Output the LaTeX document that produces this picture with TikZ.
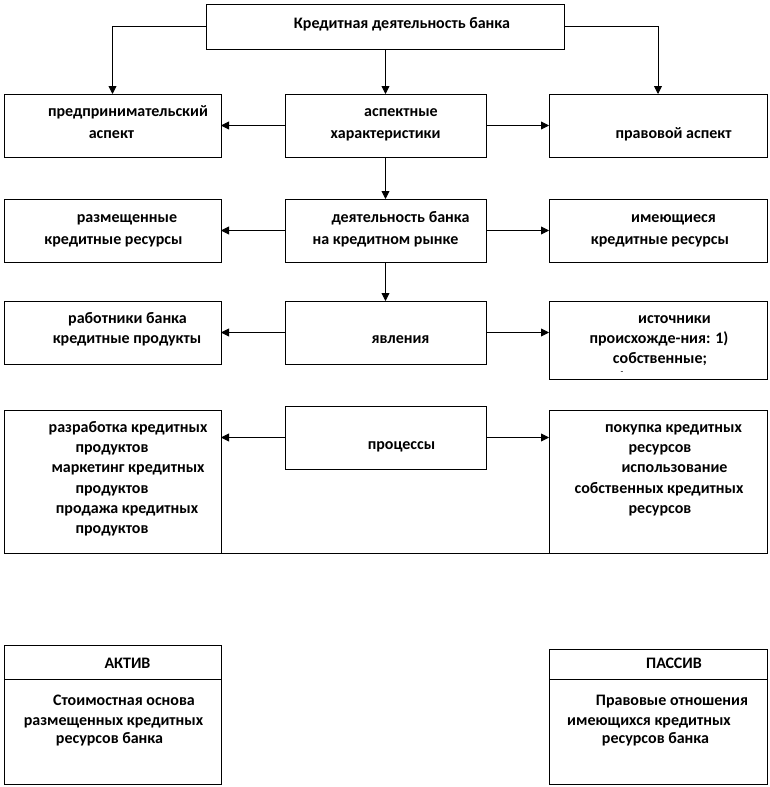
\documentclass[tikz,border=0pt]{standalone}
\usepackage{fontspec}
\setmainfont{Carlito}
\usetikzlibrary{arrows.meta}
\begin{document}
\begin{tikzpicture}[x=1pt,y=-1pt,
  box/.style={draw,line width=0.9pt,inner sep=0pt,outer sep=0pt,rectangle},
  arr/.style={line width=0.9pt,-{Triangle[length=8pt,width=8pt]}},
  ln/.style={line width=0.9pt},
  t/.style={anchor=base,inner sep=0pt,font=\fontsize{16}{20}\selectfont\bfseries}]
\useasboundingbox (0,0) rectangle (770,787);
% boxes
\node[box,minimum width=358,minimum height=45] (top) at (385,26.5) {};
\node[box,minimum width=217,minimum height=63] (r1L) at (112.5,125.5) {};
\node[box,minimum width=201,minimum height=63] (r1M) at (385.5,125.5) {};
\node[box,minimum width=218,minimum height=63] (r1R) at (658,125.5) {};
\node[box,minimum width=217,minimum height=63] (r2L) at (112.5,230.5) {};
\node[box,minimum width=201,minimum height=63] (r2M) at (385.5,230.5) {};
\node[box,minimum width=218,minimum height=63] (r2R) at (658,230.5) {};
\node[box,minimum width=217,minimum height=63] (r3L) at (112.5,332.5) {};
\node[box,minimum width=201,minimum height=63] (r3M) at (385.5,332.5) {};
\node[box,minimum width=218,minimum height=78] (r3R) at (658,340) {};
\node[box,minimum width=217,minimum height=143] (r4L) at (112.5,481.5) {};
\node[box,minimum width=201,minimum height=63] (r4M) at (385.5,437.5) {};
\node[box,minimum width=218,minimum height=143] (r4R) at (658,481.5) {};
\node[box,minimum width=217,minimum height=139] (r5L) at (112.5,714.5) {};
\node[box,minimum width=218,minimum height=135] (r5R) at (658,716.5) {};
\draw[ln] (r5L.west |- 0,679) -- (r5L.east |- 0,679);
\draw[ln] (r5R.west |- 0,679) -- (r5R.east |- 0,679);
% connectors
\draw[arr] (top.west) -| (r1L.north);
\draw[arr] (r1M.north |- top.south) -- (r1M.north);
\draw[arr] (top.east) -| (r1R.north);
\draw[arr] (r1M.west) -- (r1L.east);
\draw[arr] (r1M.east) -- (r1R.west);
\draw[arr] (r1M.south) -- (r2M.north);
\draw[arr] (r2M.west) -- (r2L.east);
\draw[arr] (r2M.east) -- (r2R.west);
\draw[arr] (r2M.south) -- (r3M.north);
\draw[arr] (r3M.west) -- (r3L.east);
\draw[arr] (r3M.east) -- (r3M.east -| r3R.west);
\draw[arr] (r4M.west) -- (r4M.west -| r4L.east);
\draw[arr] (r4M.east) -- (r4M.east -| r4R.west);
\draw[ln] (r4L.south east) -- (r4R.south west);
% texts
\node[t] (tt) at (402,28) {Кредитная деятельность банка};
\node[t] (a1) at (128,116) {предпринимательский};
\node[t] (a2) at (111.5,138) {аспект};
\node[t] (b1) at (401,116) {аспектные};
\node[t] (b2) at (385.5,138) {характеристики};
\node[t] (c1) at (673.5,138) {правовой аспект};
\node[t] (d1) at (127,222) {размещенные};
\node[t] (d2) at (113.5,244) {кредитные ресурсы};
\node[t] (e1) at (400.5,222) {деятельность банка};
\node[t] (e2) at (385.5,244) {на кредитном рынке};
\node[t] (f1) at (673.5,222) {имеющиеся};
\node[t] (f2) at (660,244) {кредитные ресурсы};
\node[t] (g1) at (127.5,323) {работники банка};
\node[t] (g2) at (127,343) {кредитные продукты};
\node[t] (h1) at (400.5,343) {явления};
\node[t] (i1) at (674.5,323) {источники};
\node[t] (i2) at (659,343) {происхожде-ния: 1)};
\node[t] (i3) at (660,363) {собственные;};
\node[t,font=\fontsize{9}{9}\selectfont] (i4) at (622,374) {-};
\node[t] (j1) at (128,432) {разработка кредитных};
\node[t] (j2) at (112,452) {продуктов};
\node[t] (j3) at (128,472) {маркетинг кредитных};
\node[t] (j4) at (112,493) {продуктов};
\node[t] (j5) at (127,513) {продажа кредитных};
\node[t] (j6) at (112,533) {продуктов};
\node[t] (k1) at (401.5,449) {процессы};
\node[t] (l1) at (673.5,432) {покупка кредитных};
\node[t] (l2) at (660,452) {ресурсов};
\node[t] (l3) at (674.5,472) {использование};
\node[t] (l4) at (659,493) {собственных кредитных};
\node[t] (l5) at (660,513) {ресурсов};
\node[t] (m0) at (127.5,668) {АКТИВ};
\node[t] (m1) at (124,705) {Стоимостная основа};
\node[t] (m2) at (113.5,725) {размещенных кредитных};
\node[t] (m3) at (109.5,743) {ресурсов банка};
\node[t] (n0) at (674,668) {ПАССИВ};
\node[t] (n1) at (672,705) {Правовые отношения};
\node[t] (n2) at (649,725) {имеющихся кредитных};
\node[t] (n3) at (655.5,743) {ресурсов банка};
\end{tikzpicture}
\end{document}
